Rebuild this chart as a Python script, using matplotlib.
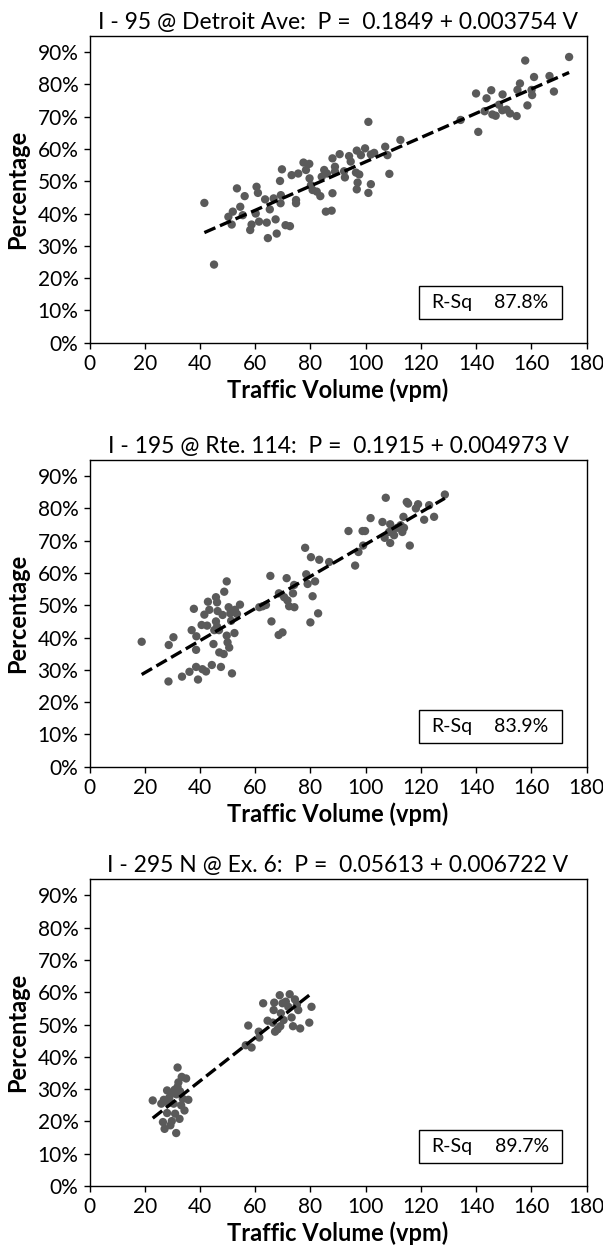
import matplotlib
matplotlib.use("Agg")
import matplotlib.pyplot as plt
import numpy as np
from matplotlib.ticker import PercentFormatter

plt.rcParams['font.family'] = ['Lato', 'DejaVu Sans']

# ---------------- data ----------------
titles = [
    "I - 95 @ Detroit Ave:  P =  0.1849 + 0.003754 V",
    "I - 195 @ Rte. 114:  P =  0.1915 + 0.004973 V",
    "I - 295 N @ Ex. 6:  P =  0.05613 + 0.006722 V",
]
intercepts = [0.1849, 0.1915, 0.05613]
slopes = [0.003754, 0.004973, 0.006722]
rsq_labels = ["87.8%", "83.9%", "89.7%"]

x1 = [41.6, 45.1, 50.3, 51.9, 51.5, 53.4, 54.6, 56.2, 55.5, 58.2, 58.7, 60.2, 60.5, 61.0, 61.4,
      63.6, 64.2, 64.6, 65.3, 66.7, 67.4, 67.8, 69.0, 69.7, 69.3, 69.2, 71.0, 72.6, 73.2, 74.8,
      74.8, 75.6, 77.5, 79.6, 78.4, 79.7, 80.2, 80.8, 82.3, 83.6, 84.1, 85.0, 86.0, 85.6, 87.7,
      88.0, 88.0, 88.9, 88.9, 90.6, 92.2, 92.5, 94.0, 94.6, 96.8, 98.3, 99.8, 96.5, 97.7, 97.1,
      96.8, 101.0, 101.9, 101.0, 101.9, 103.1, 107.1, 107.9, 108.6, 112.6, 134.4, 140.8, 140.0,
      143.1, 143.8, 145.5, 145.9, 147.1, 148.3, 149.6, 149.5, 151.1, 152.3, 154.7, 155.0, 155.9,
      157.8, 158.6, 160.1, 160.3, 161.0, 166.6, 168.2, 173.7]
y1 = [43.3, 24.2, 39.0, 40.6, 36.6, 47.8, 42.1, 45.4, 39.5, 34.9, 36.6, 40.0, 48.3, 46.4, 37.5,
      44.4, 37.2, 32.4, 41.3, 44.7, 38.2, 33.8, 50.1, 53.7, 45.7, 43.2, 36.4, 36.1, 51.9, 44.2,
      43.2, 52.4, 55.8, 55.4, 53.5, 50.9, 48.8, 47.3, 46.8, 45.4, 51.4, 53.5, 52.4, 40.6, 40.9,
      46.3, 57.1, 54.5, 53.0, 58.4, 53.1, 51.2, 57.8, 56.1, 59.5, 58.1, 60.2, 52.7, 52.1, 49.6,
      47.5, 46.4, 49.1, 68.4, 58.3, 58.8, 60.7, 58.1, 52.3, 62.8, 69.0, 65.3, 77.2,
      71.7, 75.7, 78.2, 70.7, 70.3, 73.7, 76.9, 72.0, 72.2, 71.0, 70.2, 78.3, 80.3,
      87.4, 73.5, 78.3, 76.7, 82.3, 82.6, 77.8, 88.5]

x2 = [18.9, 28.6, 28.7, 30.4, 33.5, 36.2, 37.0, 37.8, 38.6, 38.7, 38.6, 39.3, 40.6, 40.9, 42.2,
      42.6, 41.6, 42.9, 43.4, 44.3, 44.9, 45.8, 46.2, 45.8, 46.4, 45.2, 46.2, 46.9, 47.6, 47.0,
      48.6, 48.2, 48.8, 49.7, 49.7, 50.0, 50.6, 50.4, 51.0, 51.3, 51.6, 52.5, 52.7, 53.4, 54.5,
      61.5, 62.7, 63.9, 65.5, 65.9, 68.5, 69.9, 68.6, 70.5, 71.4, 71.7, 72.3, 74.2, 73.7, 74.1,
      78.1, 78.5, 79.0, 80.2, 80.8, 81.7, 80.0, 82.8, 83.2, 86.8,
      93.8, 96.2, 97.4, 99.1, 98.9, 99.8, 101.8, 107.3, 106.1, 108.9, 108.9, 106.9, 108.5, 109.7,
      110.3, 111.5, 112.7, 113.3, 113.7, 113.9, 114.9, 115.4, 116.0, 118.2, 119.0, 121.2, 123.0,
      124.8, 128.7]
y2 = [38.7, 26.4, 37.7, 40.1, 27.9, 29.4, 42.3, 48.9, 30.9, 40.4, 36.2, 27.0, 43.9, 30.2, 29.5,
      43.7, 47.1, 51.1, 48.6, 31.5, 38.0, 52.5, 50.9, 45.0, 48.2, 42.3, 43.4, 42.3, 30.9, 35.4,
      34.9, 47.0, 54.2, 57.4, 40.6, 38.5, 36.9, 49.4, 47.5, 45.2, 28.9, 41.4, 48.6, 47.3, 50.2,
      49.4, 49.7, 50.1, 59.1, 45.0, 40.8, 41.6, 53.7, 52.5, 58.4, 51.5, 49.7, 49.4, 53.7, 56.3,
      67.8, 59.6, 56.6, 64.9, 52.8, 57.4, 44.7, 47.5, 64.1, 63.4,
      73.0, 62.3, 66.5, 68.5, 73.0, 73.0, 77.0, 83.3, 75.8, 75.1, 69.3, 70.9, 72.7, 73.2,
      71.7, 74.0, 74.8, 72.7, 77.4, 74.0, 82.0, 81.5, 68.5, 80.0, 81.3, 76.5, 81.0,
      77.4, 84.3]

x3 = [22.9, 26.0, 26.6, 27.2, 28.1, 28.1, 28.6, 28.9, 29.3, 29.8, 29.6, 30.5, 31.0, 31.4, 31.5,
      31.9, 31.9, 32.2, 32.6, 32.8, 33.2, 33.4, 33.8, 34.4, 35.0, 35.8, 26.9, 30.8,
      56.6, 58.7, 57.5, 61.3, 61.5, 62.9, 64.5, 66.4, 66.7, 66.9, 67.2, 68.1, 68.9, 69.3, 69.1,
      69.9, 70.3, 71.1, 72.0, 72.5, 73.2, 73.7, 74.4, 75.1, 75.6, 76.3, 79.6, 80.4]
y3 = [26.5, 25.5, 19.8, 17.7, 29.6, 22.6, 25.7, 27.4, 18.8, 20.1, 28.6, 25.5, 22.4, 16.4, 28.4,
      36.7, 30.7, 32.1, 20.8, 29.3, 25.0, 33.8, 27.0, 23.4, 33.3, 26.7, 26.7, 29.8,
      43.6, 42.9, 49.7, 47.8, 46.0, 56.6, 51.2, 50.6, 54.5, 56.8, 47.8, 48.5, 59.1, 53.5, 49.5,
      56.6, 51.4, 57.1, 55.5, 59.4, 52.2, 49.5, 57.8, 56.1, 54.5, 48.8, 50.6, 55.5]

xs = [x1, x2, x3]
ys = [y1, y2, y3]

x_ticks = [0, 20, 40, 60, 80, 100, 120, 140, 160, 180]
y_ticks = [0, 10, 20, 30, 40, 50, 60, 70, 80, 90]

# ---------------- figure ----------------
W, H = 603, 1250
fig = plt.figure(figsize=(W / 100, H / 100), dpi=100)

left_px, right_px = 89.5, 586.5
panel_tops = [36.0, 460.0, 879.3]
panel_h = 306.7

marker_color = '#5a5a5a'
fs = 15

for i in range(3):
    top = panel_tops[i]
    ax = fig.add_axes([left_px / W, 1 - (top + panel_h) / H,
                       (right_px - left_px) / W, panel_h / H])
    ax.scatter(xs[i], ys[i], s=36, color=marker_color, edgecolors='none', zorder=3)

    xv = np.array([min(xs[i]), max(xs[i])])
    yv = 100 * (intercepts[i] + slopes[i] * xv)
    ax.plot(xv, yv, color='black', lw=2.4, dashes=(3.6, 1.5), zorder=4,
            dash_capstyle='butt')

    ax.set_xlim(0, 180)
    ax.set_ylim(0, 95)
    ax.set_xticks(x_ticks)
    ax.set_yticks(y_ticks)
    ax.yaxis.set_major_formatter(PercentFormatter(100, decimals=0))
    ax.tick_params(axis='both', direction='out', length=4, width=1,
                   labelsize=fs, color='black')
    ax.tick_params(axis='y', pad=4)
    ax.tick_params(axis='x', pad=4)
    for sp in ax.spines.values():
        sp.set_linewidth(1.0)
        sp.set_color('black')

    ax.set_title(titles[i], fontsize=16.5, pad=5)
    ax.set_xlabel("Traffic Volume (vpm)", fontsize=17, fontweight='bold', labelpad=3)
    ax.set_ylabel("Percentage", fontsize=17, fontweight='bold', labelpad=6)

    # R-Sq box
    ax.add_patch(plt.Rectangle((119.2, 7.2), 52.0, 10.3, fill=False,
                               edgecolor='black', lw=1.0, zorder=5))
    ax.text(131.4, 12.35, "R-Sq", ha='center', va='center', fontsize=14, zorder=6)
    ax.text(156.5, 12.35, rsq_labels[i], ha='center', va='center', fontsize=14, zorder=6)

fig.savefig("out.png", dpi=100)
